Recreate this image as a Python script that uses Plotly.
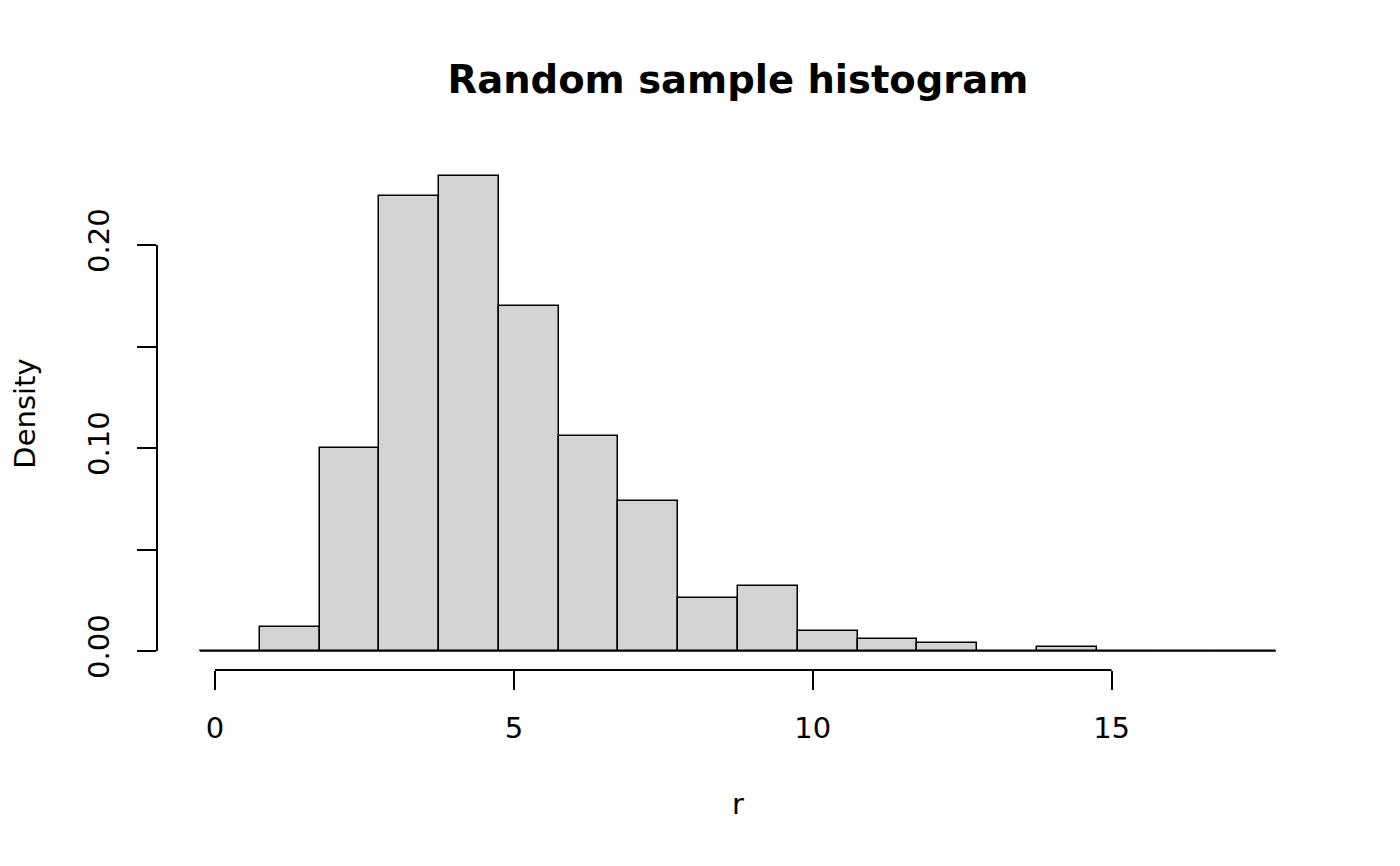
import plotly.graph_objects as go

# Histogram data (density per bin of width 1)
bin_edges = [-0.25, 0.75, 1.75, 2.75, 3.75, 4.75, 5.75, 6.75, 7.75, 8.75, 9.75,
             10.75, 11.75, 12.75, 13.75, 14.75, 15.75, 16.75, 17.75]
densities = [0.0, 0.012, 0.100, 0.224, 0.234, 0.170, 0.106, 0.074, 0.026, 0.032,
             0.010, 0.006, 0.004, 0.0, 0.002, 0.0, 0.0, 0.0]
x_ticks = [0, 5, 10, 15]
y_ticks = [0.0, 0.05, 0.10, 0.15, 0.20]
y_ticktext = ["0.00", "", "0.10", "", "0.20"]

centers = [(a + b) / 2 for a, b in zip(bin_edges[:-1], bin_edges[1:])]
widths = [b - a for a, b in zip(bin_edges[:-1], bin_edges[1:])]

# R-style usr extents (4% padding)
xr = bin_edges[-1] - bin_edges[0]
x_range = [bin_edges[0] - 0.04 * xr, bin_edges[-1] + 0.04 * xr]
ymax = max(densities)
y_range = [-0.04 * ymax, ymax * 1.04]

FONT = "DejaVu Sans"
OFF = 8  # page body margin

fig = go.Figure()
fig.add_trace(go.Scatter(
    x=[bin_edges[0], bin_edges[-1]], y=[0, 0], mode="lines",
    line=dict(color="black", width=1.5), hoverinfo="skip", showlegend=False))
fig.add_trace(go.Bar(
    x=centers, y=densities, width=widths,
    marker=dict(color="#D3D3D3", line=dict(color="black", width=1.5)),
    showlegend=False))

# Detached R-style axis lines
fig.add_shape(type="line", xref="x", yref="paper", x0=x_ticks[0], x1=x_ticks[-1],
              y0=0, y1=0, line=dict(color="black", width=2))
fig.add_shape(type="line", xref="paper", yref="y", x0=0, x1=0,
              y0=y_ticks[0], y1=y_ticks[-1], line=dict(color="black", width=2))

fig.update_layout(
    width=1400, height=866,
    margin=dict(l=157 - OFF, r=81 + OFF, t=157 - OFF, b=196 + OFF),
    paper_bgcolor="white", plot_bgcolor="white",
    bargap=0,
    font=dict(family=FONT, size=29, color="black"),
    title=dict(text="<b>Random sample histogram</b>",
               x=((157 + 1319) / 2 - OFF) / 1400,
               xanchor="center", y=1 - (80 - OFF) / 866, yanchor="middle",
               font=dict(family=FONT, size=38.5, color="black")),
    xaxis=dict(range=x_range, tickvals=x_ticks, ticktext=[str(v) for v in x_ticks],
               ticks="outside", ticklen=19, tickwidth=2, tickcolor="black",
               ticklabelstandoff=13,
               showgrid=False, zeroline=False, showline=False,
               title=dict(text="r", standoff=49, font=dict(size=29))),
    yaxis=dict(range=y_range, tickvals=y_ticks, ticktext=y_ticktext,
               ticks="outside", ticklen=19, tickwidth=2, tickcolor="black",
               tickangle=-90, ticklabelstandoff=16,
               showgrid=False, zeroline=False, showline=False,
               title=dict(text="Density", standoff=39, font=dict(size=29))),
)

fig.write_html("out.html")
